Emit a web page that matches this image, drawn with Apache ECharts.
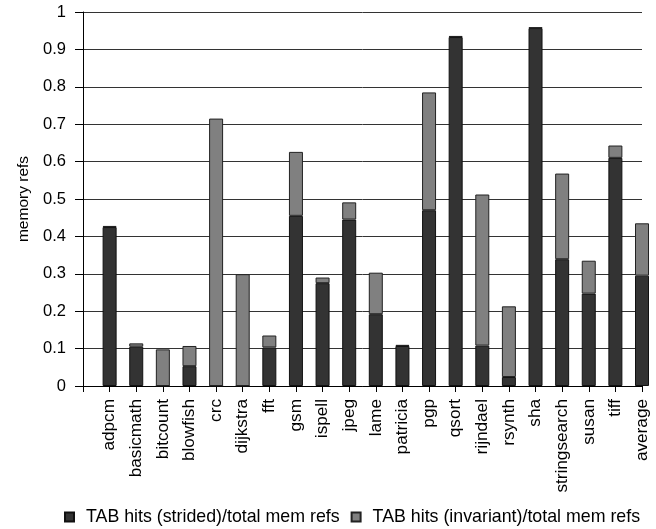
<!DOCTYPE html>
<html>
<head>
<meta charset="utf-8">
<script src="https://cdn.jsdelivr.net/npm/echarts@6/dist/echarts.min.js"></script>
<style>html,body{margin:0;padding:0;background:#fff}#c{width:656px;height:529px}</style>
</head>
<body>
<div id="c"></div>
<script>
var categories = ['adpcm','basicmath','bitcount','blowfish','crc','dijkstra','fft','gsm','ispell','jpeg','lame','patricia','pgp','qsort','rijndael','rsynth','sha','stringsearch','susan','tiff','average'];
var strided   = [0.425,0.105,0,0.053,0,0,0.103,0.455,0.275,0.445,0.192,0.107,0.470,0.933,0.108,0.024,0.957,0.339,0.247,0.610,0.295];
var invariant = [0.003,0.009,0.098,0.054,0.715,0.299,0.032,0.171,0.015,0.046,0.111,0.003,0.315,0.003,0.404,0.189,0.002,0.229,0.088,0.033,0.140];
var yTicks = [0,0.1,0.2,0.3,0.4,0.5,0.6,0.7,0.8,0.9,1];
var seriesNames = ['TAB hits (strided)/total mem refs','TAB hits (invariant)/total mem refs'];

var font = 'Liberation Sans, Arial, sans-serif';
var chart = echarts.init(document.getElementById('c'), null, {renderer:'canvas'});
chart.setOption({
  animation:false,
  backgroundColor:'#fff',
  grid:{left:83,right:14,top:12,bottom:143,containLabel:false},
  legend:{
    top:508, left:64, padding:0,
    icon:'rect', itemWidth:9, itemHeight:9, itemGap:11,
    textStyle:{fontFamily:font,fontSize:17.8,color:'#000',padding:[0,0,0,7]},
    data:seriesNames
  },
  xAxis:{
    type:'category',
    boundaryGap:false,
    data:[''].concat(categories),
    axisLine:{lineStyle:{color:'#000',width:1}},
    axisTick:{show:true,inside:false,length:6,alignWithLabel:true,lineStyle:{color:'#000'}},
    axisLabel:{rotate:90,interval:0,margin:13,fontFamily:font,fontSize:17.2,color:'#000'},
    splitLine:{show:false}
  },
  yAxis:{
    type:'value',min:0,max:1,interval:0.1,
    name:'memory refs',nameLocation:'middle',nameGap:48,nameRotate:90,
    nameTextStyle:{fontFamily:font,fontSize:15.5,color:'#000'},
    axisLine:{show:true,lineStyle:{color:'#000',width:1}},
    axisTick:{show:true,length:8,lineStyle:{color:'#000'}},
    axisLabel:{fontFamily:font,fontSize:16.5,color:'#000',margin:17,
      formatter:function(v){var r=Math.round(v*10)/10; return yTicks.indexOf(r)>=0?String(r):'';}},
    splitLine:{show:true,lineStyle:{color:'#333',width:1}}
  },
  series:[
    {name:seriesNames[0],type:'bar',stack:'s',barWidth:14,
     data:['-'].concat(strided),
     itemStyle:{color:'#333333',borderColor:'#111',borderWidth:1}},
    {name:seriesNames[1],type:'bar',stack:'s',barWidth:14,
     data:['-'].concat(invariant),
     itemStyle:{color:'#808080',borderColor:'#222',borderWidth:1}}
  ]
});
</script>
</body>
</html>
